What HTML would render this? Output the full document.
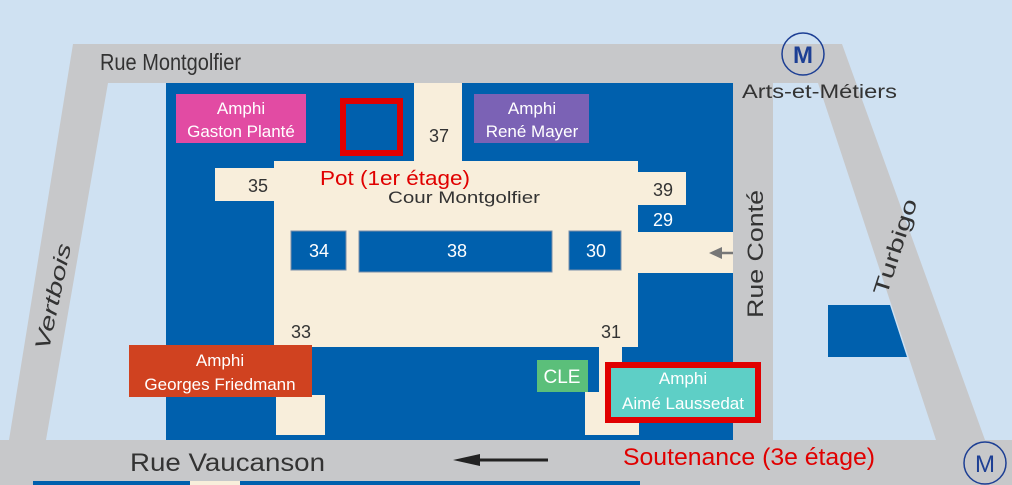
<!DOCTYPE html>
<html><head><meta charset="utf-8"><style>
html,body{margin:0;padding:0;background:#cfe1f2;}
svg{display:block;}
text{font-family:"Liberation Sans",sans-serif;}
</style></head><body>
<svg width="1012" height="485" viewBox="0 0 1012 485" xmlns="http://www.w3.org/2000/svg">
<rect width="1012" height="485" fill="#cfe1f2"/>
<polygon points="73,44 842,44 985,440 936,440 818,83 108,83 46,440 9,440" fill="#c7c8ca"/>
<rect x="0" y="440" width="1012" height="45" fill="#c7c8ca"/>
<rect x="733" y="83" width="40" height="357" fill="#c7c8ca"/>
<rect x="33" y="481" width="607" height="4" fill="#0060ad"/>
<rect x="190" y="481" width="50" height="4" fill="#f8eedb"/>
<rect x="166" y="83" width="567" height="357" fill="#0060ad"/>
<g fill="#f8eedb">
<rect x="414" y="83" width="48" height="80"/>
<rect x="274" y="161" width="364" height="186"/>
<rect x="215" y="168" width="60" height="33"/>
<rect x="638" y="172" width="48" height="33"/>
<rect x="638" y="232" width="95" height="41"/>
<rect x="599" y="340" width="23" height="55"/>
<rect x="585" y="392" width="54" height="43"/>
<rect x="276" y="395" width="49" height="40"/>
</g>
<g fill="#0060ad" stroke="#7a8ea8" stroke-width="1">
<rect x="291" y="231" width="55" height="39"/>
<rect x="359" y="231" width="193" height="41"/>
<rect x="569" y="231" width="52" height="39"/>
</g>
<polygon points="828,305 890,305 907,357 828,357" fill="#0060ad"/>
<rect x="176" y="94" width="130" height="49" fill="#e24ba3"/>
<rect x="474" y="94" width="115" height="49" fill="#7b62b5"/>
<rect x="129" y="345" width="183" height="52" fill="#d04220"/>
<rect x="537" y="360" width="51" height="32" fill="#5bbf7a"/>
<rect x="608" y="365" width="150" height="55" fill="#5ecfc6" stroke="#e00000" stroke-width="6"/>
<rect x="343" y="101" width="57" height="52" fill="none" stroke="#e00000" stroke-width="6"/>
<g fill="#fff" font-size="17" text-anchor="middle">
<text x="241" y="114">Amphi</text><text x="241" y="137">Gaston Planté</text>
<text x="532" y="114">Amphi</text><text x="532" y="137">René Mayer</text>
<text x="220" y="366">Amphi</text><text x="220" y="390">Georges Friedmann</text>
<text x="562" y="383" font-size="19">CLE</text>
<text x="683" y="384">Amphi</text><text x="683" y="409">Aimé Laussedat</text>
</g>
<g font-size="18" text-anchor="middle" fill="#333">
<text x="439" y="142">37</text><text x="258" y="192">35</text><text x="663" y="196">39</text>
<text x="301" y="338">33</text><text x="611" y="338">31</text>
</g>
<g font-size="18" text-anchor="middle" fill="#fff">
<text x="319" y="257">34</text><text x="457" y="257">38</text><text x="596" y="257">30</text><text x="663" y="226">29</text>
</g>
<text x="320" y="185" font-size="20" fill="#e00000" textLength="150" lengthAdjust="spacingAndGlyphs">Pot (1er étage)</text>
<text x="388" y="203" font-size="17" fill="#333" textLength="152" lengthAdjust="spacingAndGlyphs">Cour Montgolfier</text>
<text x="100" y="70" font-size="23" fill="#333" textLength="141" lengthAdjust="spacingAndGlyphs">Rue Montgolfier</text>
<text x="742" y="98" font-size="19" fill="#333" textLength="155" lengthAdjust="spacingAndGlyphs">Arts-et-Métiers</text>
<circle cx="803" cy="54" r="21" fill="none" stroke="#1d3f94" stroke-width="1.5"/>
<text x="803" y="63" font-size="24" font-weight="bold" text-anchor="middle" fill="#1d3f94">M</text>
<circle cx="985" cy="463" r="21" fill="none" stroke="#1d3f94" stroke-width="1.5"/>
<text x="985" y="472" font-size="24" text-anchor="middle" fill="#1d3f94">M</text>
<text x="130" y="471" font-size="25" fill="#333" textLength="195" lengthAdjust="spacingAndGlyphs">Rue Vaucanson</text>
<text x="623" y="465" font-size="24" fill="#e00000" textLength="252" lengthAdjust="spacingAndGlyphs">Soutenance (3e étage)</text>
<line x1="548" y1="460" x2="475" y2="460" stroke="#222" stroke-width="3"/>
<polygon points="453,460 480,454 480,466" fill="#222"/>
<line x1="733" y1="253" x2="722" y2="253" stroke="#777" stroke-width="2.5"/>
<polygon points="709,253 722,247 722,259" fill="#777"/>
<text transform="translate(763,254) rotate(-90)" font-size="22" text-anchor="middle" fill="#333" textLength="128" lengthAdjust="spacingAndGlyphs">Rue Conté</text>
<text transform="translate(902,249) rotate(-72)" font-size="21" text-anchor="middle" fill="#333" textLength="100" lengthAdjust="spacingAndGlyphs">Turbigo</text>
<text transform="translate(60,298) rotate(-78)" font-size="21" text-anchor="middle" fill="#333" font-style="italic" textLength="108" lengthAdjust="spacingAndGlyphs">Vertbois</text>
</svg>
</body></html>
